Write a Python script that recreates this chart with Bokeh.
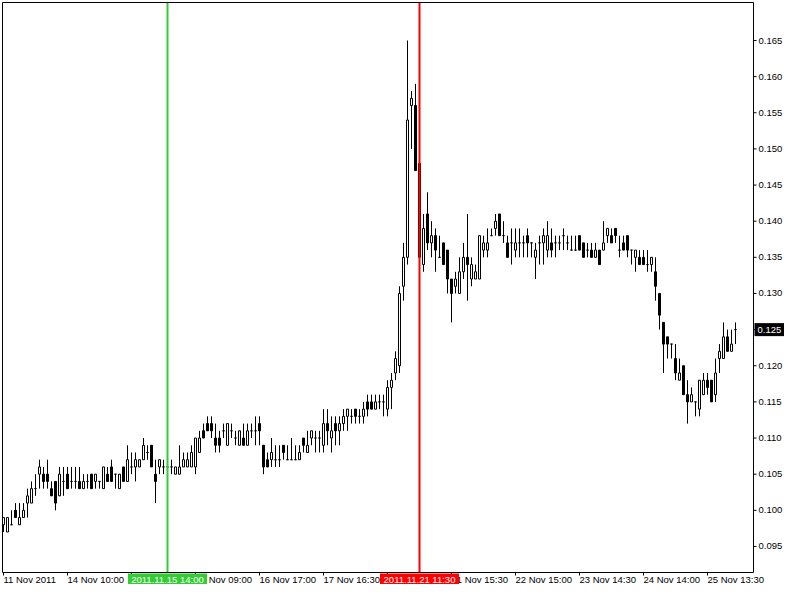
from bokeh.plotting import figure
from bokeh.models import ColumnDataSource, Range1d
from bokeh.core.properties import value
from bokeh.embed import file_html
from bokeh.resources import INLINE

# ---- data (M30 bars, 11 Nov 2011 .. 25 Nov 2011) ----
opens = [
    .098, .097, .098, .100, .098, .099, .101, .101, .103, .105,
    .105, .105, .103, .104, .102, .104, .105, .104, .104, .104,
    .103, .104, .105, .104, .104, .103, .105, .106, .105, .103,
    .106, .104, .106, .106, .106, .107, .108, .109, .105, .106,
    .106, .106, .106, .105, .105, .106, .106, .106, .106, .108,
    .111, .112, .112, .110, .110, .111, .109, .111, .110, .109,
    .110, .109, .111, .111, .112, .109, .107, .107, .107, .107,
    .109, .107, .107, .107, .107, .110, .108, .110, .110, .110,
    .109, .112, .110, .112, .111, .112, .113, .113, .114, .113,
    .113, .115, .115, .114, .115, .115, .114, .117, .119, .120,
    .131, .135, .156, .156, .148, .134, .141, .137, .138, .135,
    .137, .136, .132, .131, .130, .133, .135, .132, .132, .132,
    .136, .136, .138, .139, .141, .138, .137, .137, .136, .137,
    .137, .138, .137, .135, .137, .137, .136, .137, .137, .137,
    .138, .137, .136, .136, .138, .137, .136, .136, .135, .136,
    .136, .138, .138, .139, .136, .137, .138, .136, .135, .135,
    .135, .134, .134, .133, .130, .126, .124, .123, .121, .118,
    .120, .116, .115, .115, .114, .116, .118, .118, .116, .121,
    .121, .124, .122, .125,
]
highs = [
    .099, .099, .100, .101, .101, .101, .103, .104, .105, .107,
    .106, .107, .104, .104, .106, .106, .106, .106, .106, .106,
    .105, .105, .105, .105, .104, .106, .106, .107, .105, .105,
    .106, .109, .108, .108, .107, .110, .109, .109, .107, .107,
    .107, .107, .107, .106, .109, .108, .108, .109, .110, .111,
    .112, .113, .113, .112, .111, .112, .112, .112, .111, .111,
    .112, .112, .112, .113, .113, .109, .108, .110, .109, .109,
    .109, .109, .110, .109, .109, .110, .111, .111, .111, .111,
    .114, .114, .113, .113, .113, .114, .114, .114, .114, .114,
    .115, .116, .116, .116, .116, .116, .118, .119, .122, .131,
    .137, .165, .158, .159, .149, .141, .144, .140, .139, .138,
    .137, .136, .132, .133, .135, .137, .141, .135, .134, .138,
    .138, .139, .139, .141, .141, .140, .138, .139, .139, .139,
    .138, .139, .137, .137, .138, .139, .140, .139, .138, .138,
    .139, .138, .138, .138, .138, .137, .137, .137, .137, .136,
    .140, .139, .139, .139, .138, .138, .138, .136, .136, .136,
    .136, .136, .135, .135, .130, .126, .124, .123, .123, .121,
    .120, .118, .117, .115, .118, .119, .119, .118, .121, .123,
    .126, .125, .125, .126,
]
lows = [
    .097, .097, .098, .099, .098, .099, .099, .101, .102, .103,
    .103, .103, .102, .100, .102, .102, .103, .103, .103, .103,
    .103, .103, .103, .103, .103, .103, .104, .104, .103, .103,
    .104, .104, .105, .104, .106, .107, .107, .106, .101, .105,
    .105, .105, .105, .105, .105, .106, .106, .106, .105, .108,
    .110, .111, .110, .108, .108, .110, .109, .110, .109, .109,
    .109, .109, .110, .109, .109, .105, .106, .106, .106, .106,
    .107, .107, .107, .107, .107, .108, .108, .109, .108, .108,
    .108, .109, .108, .109, .109, .111, .111, .112, .112, .112,
    .112, .113, .114, .114, .114, .113, .113, .114, .118, .119,
    .129, .134, .150, .147, .134, .133, .136, .135, .133, .135,
    .134, .130, .126, .130, .130, .132, .129, .131, .132, .132,
    .135, .135, .138, .138, .138, .137, .135, .134, .135, .135,
    .135, .135, .135, .132, .134, .134, .135, .135, .135, .136,
    .136, .136, .136, .136, .136, .135, .135, .135, .135, .134,
    .136, .137, .137, .137, .135, .136, .135, .134, .133, .134,
    .134, .133, .133, .129, .125, .119, .121, .121, .118, .118,
    .116, .112, .115, .113, .113, .116, .116, .115, .115, .119,
    .121, .122, .122, .123,
]
closes = [
    .099, .099, .098, .099, .099, .100, .102, .103, .103, .106,
    .104, .104, .102, .101, .105, .104, .103, .104, .104, .103,
    .104, .104, .103, .105, .104, .106, .104, .104, .105, .105,
    .104, .107, .106, .107, .107, .109, .108, .106, .104, .107,
    .106, .106, .106, .106, .106, .107, .107, .108, .110, .110,
    .110, .111, .111, .109, .109, .111, .112, .111, .110, .111,
    .109, .111, .111, .111, .111, .106, .106, .108, .107, .107,
    .108, .107, .107, .107, .108, .109, .109, .111, .110, .110,
    .112, .111, .111, .111, .112, .113, .114, .113, .113, .113,
    .114, .114, .114, .115, .115, .115, .117, .118, .121, .130,
    .135, .154, .157, .147, .135, .139, .137, .138, .136, .135,
    .134, .132, .130, .132, .133, .135, .134, .134, .133, .138,
    .137, .137, .138, .140, .138, .138, .135, .137, .137, .137,
    .137, .137, .137, .136, .137, .138, .138, .136, .137, .137,
    .138, .137, .136, .136, .136, .135, .136, .135, .136, .134,
    .137, .139, .137, .138, .136, .136, .136, .136, .136, .134,
    .134, .134, .135, .131, .127, .123, .123, .123, .119, .119,
    .116, .115, .116, .115, .118, .118, .117, .115, .119, .122,
    .124, .122, .123, .125,
]

tick_bars = [0, 16, 32, 48, 64, 80, 96, 112, 128, 144, 160, 176]
tick_labels = ["11 Nov 2011", "14 Nov 10:00", "15 Nov 09:30", "16 Nov 09:00",
               "16 Nov 17:00", "17 Nov 16:30", "18 Nov 16:00", "21 Nov 15:30",
               "22 Nov 15:00", "23 Nov 14:30", "24 Nov 14:00", "25 Nov 13:30"]
price_ticks = [0.095, 0.100, 0.105, 0.110, 0.115, 0.120, 0.125, 0.130,
               0.135, 0.140, 0.145, 0.150, 0.155, 0.160, 0.165]
price_labels = ["%.3f" % t for t in price_ticks]
green_bar, green_text = 41, "2011.11.15 14:00"
red_bar, red_text = 104, "2011.11.21 11:30"
last_price = closes[-1]
last_price_text = "%.3f" % last_price

# ---- geometry: the canvas is the whole terminal window ----
W, H = 784, 584
FL, FR, FT, FB = 2, 753, 2, 572        # chart frame edges (canvas px)
KX = 4.0                               # px per bar
KY = 7228.0                            # px per price unit
X0 = -0.75                             # bar value at canvas left edge
X1 = X0 + W / KX
Y1 = 0.165 + 40.0 / KY                 # price at canvas top edge
Y0 = Y1 - H / KY
bx0 = X0 + FL / KX
bx1 = X0 + FR / KX
py1 = Y1 - FT / KY
py0 = Y1 - FB / KY

FONT = value("Liberation Sans")
FSIZE = value("9.5px")
GREEN = "#33cc33"
RED = "#ff0000"

p = figure(width=W, height=H, x_range=Range1d(X0, X1), y_range=Range1d(Y0, Y1),
           output_backend="svg", toolbar_location=None,
           x_axis_type=None, y_axis_type=None, min_border=0)
p.outline_line_color = None
p.background_fill_color = "white"
p.border_fill_color = "white"

# ---- candles ----
idx = list(range(len(opens)))
src = ColumnDataSource(dict(
    x=idx, o=opens, h=highs, l=lows, c=closes,
    top=[max(o, c) for o, c in zip(opens, closes)],
    bottom=[min(o, c) for o, c in zip(opens, closes)],
    fill=["white" if c >= o else "black" for o, c in zip(opens, closes)],
))
p.segment(x0="x", y0="l", x1="x", y1="h", source=src, line_color="black", line_width=1)
p.vbar(x="x", width=2.0 / KX, top="top", bottom="bottom", fill_color="fill",
       line_color="black", line_width=1, source=src)

# ---- vertical lines ----
p.segment(x0=[green_bar, red_bar], y0=[py0, py0], x1=[green_bar, red_bar], y1=[py1, py1],
          line_color=[GREEN, RED], line_width=2)

# ---- frame ----
p.segment(x0=[bx0, bx0, bx1, bx0], y0=[py0, py1, py0, py0],
          x1=[bx0, bx1, bx1, bx1], y1=[py1, py1, py1, py0],
          line_color="black", line_width=1)

# ---- price axis (right) ----
p.segment(x0=[bx1] * len(price_ticks), y0=price_ticks,
          x1=[bx1 + 3.0 / KX] * len(price_ticks), y1=price_ticks,
          line_color="black", line_width=1)
p.text(x=[bx1 + 5.0 / KX] * len(price_ticks), y=price_ticks, text=price_labels,
       text_align="left", text_baseline="middle", text_font=FONT,
       text_font_size=FSIZE, text_color="black")

# ---- time axis (bottom) ----
p.segment(x0=tick_bars, y0=[py0] * len(tick_bars), x1=tick_bars,
          y1=[py0 - 3.0 / KY] * len(tick_bars), line_color="black", line_width=1)
p.text(x=tick_bars, y=[py0 - 1.5 / KY] * len(tick_bars), text=tick_labels,
       text_align="left", text_baseline="top", text_font=FONT,
       text_font_size=FSIZE, text_color="black")

# ---- coloured time tags of the vertical lines ----
tag_w = 39.5 / KX
tag_top = py0 - 1.0 / KY
tag_bot = py0 - 12.0 / KY
p.quad(left=[green_bar - tag_w, red_bar - tag_w], right=[green_bar + tag_w, red_bar + tag_w],
       top=[tag_top, tag_top], bottom=[tag_bot, tag_bot],
       fill_color=[GREEN, RED], line_color=None)
p.text(x=[green_bar, red_bar], y=[(tag_top + tag_bot) / 2] * 2, text=[green_text, red_text],
       text_align="center", text_baseline="middle", text_font=FONT,
       text_font_size=FSIZE, text_color="white")

# ---- last price tag ----
p.quad(left=[bx1 + 1.0 / KX], right=[bx1 + 31.0 / KX],
       top=[last_price + 6.5 / KY], bottom=[last_price - 6.5 / KY],
       fill_color="black", line_color=None)
p.text(x=[bx1 + 4.0 / KX], y=[last_price], text=[last_price_text],
       text_align="left", text_baseline="middle", text_font=FONT,
       text_font_size=FSIZE, text_color="white")

open("out.html", "w").write(file_html(p, INLINE))
